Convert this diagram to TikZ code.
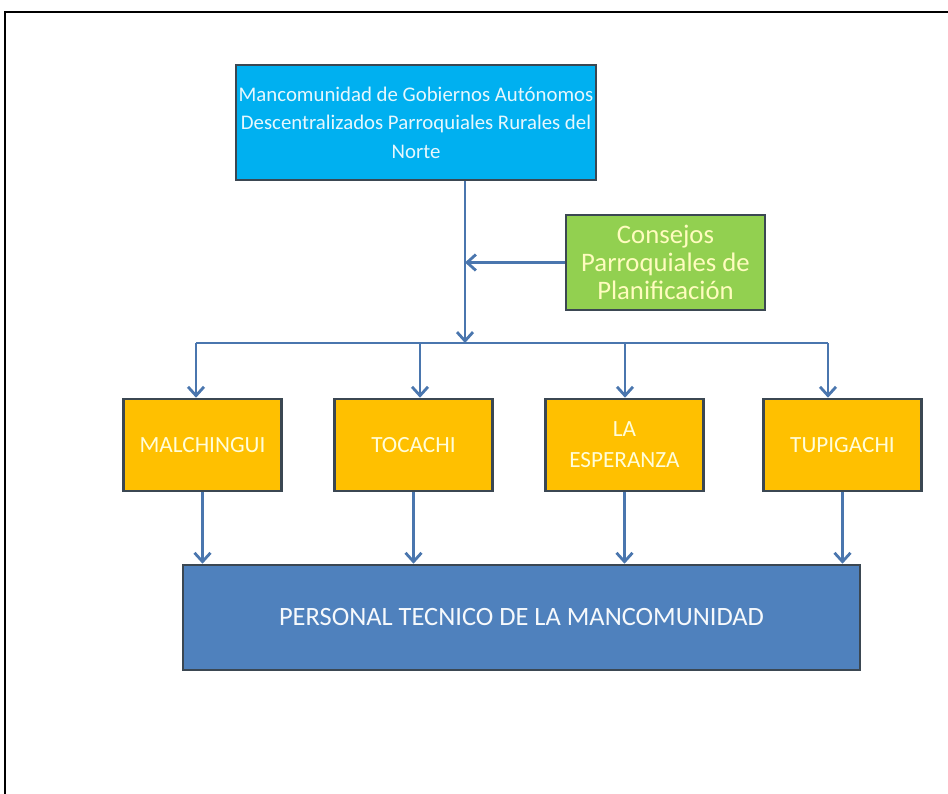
\documentclass[tikz,border=0pt]{standalone}
\usepackage{fontspec}
\setmainfont{Carlito}
\usetikzlibrary{arrows.meta}

\definecolor{cielo}{HTML}{00B0F0}
\definecolor{verde}{HTML}{92D050}
\definecolor{naranja}{HTML}{FFC000}
\definecolor{azul}{HTML}{4F81BD}
\definecolor{linea}{HTML}{4A76AE}
\definecolor{borde}{HTML}{3B4752}

\tikzset{
  caja/.style={draw=borde, line width=1.8pt, align=center, inner sep=2pt},
  conector/.style={draw=linea, line width=2pt},
  flecha/.style={conector, -{Straight Barb[length=2.2mm,width=4mm]}},
}

\begin{document}
\begin{tikzpicture}[x=0.025cm,y=-0.025cm]
\useasboundingbox (0,0) rectangle (948,794);
\draw[line width=1.3pt] (5,794) -- (5,12) -- (948,12);

% cabecera y consejos
\node[caja, fill=cielo, text=cyan!10, minimum width=9cm, minimum height=2.875cm,
  font=\fontsize{14.8}{20.2}\selectfont] (mancom) at (416,122.5)
  {Mancomunidad de Gobiernos Autónomos\\Descentralizados Parroquiales Rurales del\\Norte};
\node[caja, fill=verde, text=yellow!25, minimum width=4.975cm, minimum height=2.375cm,
  font=\fontsize{19}{20.2}\selectfont] (consejos) at (665.5,262.5)
  {Consejos\\Parroquiales de\\Planificación};
\coordinate (bajada) at (465,343);
\coordinate (cruce) at (465,262.5);
\draw[flecha] (mancom.south -| bajada) -- (bajada);
\draw[flecha] (consejos.west) -- (cruce);

% parroquias
\node[caja, fill=azul, text=white!95!azul, minimum width=16.925cm, minimum height=2.625cm,
  font=\fontsize{18.8}{22}\selectfont] (personal) at (521.5,617.5)
  {PERSONAL TECNICO DE LA MANCOMUNIDAD};
\foreach \nombre/\texto/\cx/\ax in {
  malch/MALCHINGUI/202.5/196,
  toca/TOCACHI/413.5/420,
  esper/{LA\\ESPERANZA}/624.5/625,
  tupi/TUPIGACHI/842.5/828}
{
  \node[caja, fill=naranja, text=yellow!15, minimum width=3.95cm, minimum height=2.3cm,
    font=\fontsize{16.5}{22}\selectfont] (\nombre) at (\cx,445) {\texto};
  \coordinate (b\nombre) at (\ax,343);
  \draw[flecha] (b\nombre) -- (b\nombre |- \nombre.north);
  \draw[flecha] (\nombre.south) -- (\nombre.south |- personal.north);
}
\draw[conector] (bmalch) -- (btupi);
\end{tikzpicture}
\end{document}
